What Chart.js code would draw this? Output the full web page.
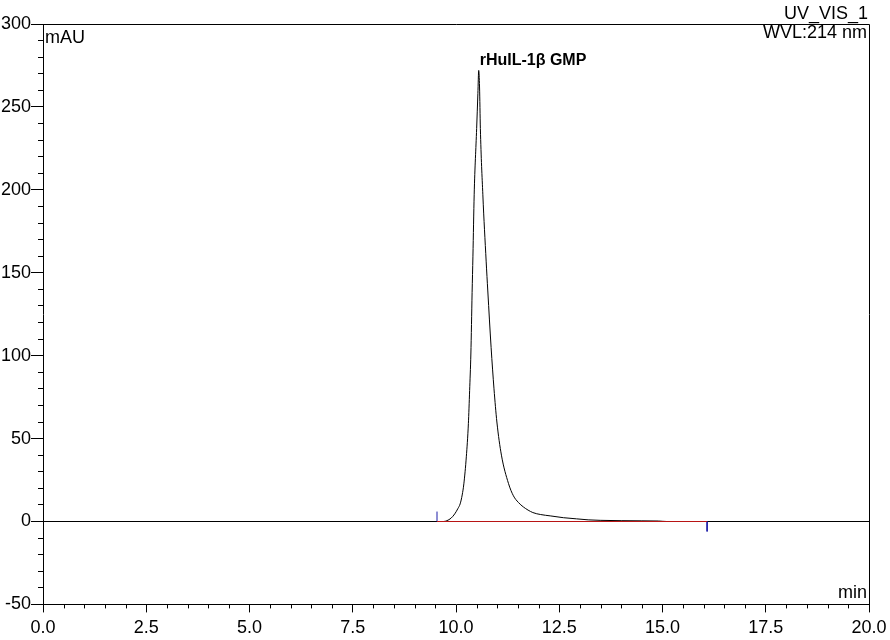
<!DOCTYPE html>
<html>
<head>
<meta charset="utf-8">
<script src="https://cdn.jsdelivr.net/npm/chart.js@4.4.1/dist/chart.umd.min.js"></script>
<style>
  body { margin: 0; background: #fff; }
  #chromatogram { display: block; }
</style>
</head>
<body>
<canvas id="chromatogram" width="890" height="640"></canvas>
<script>
// chromatogram trace (min / mAU)
const retentionTime = [0, 9.70, 9.78, 9.88, 9.97, 10.05, 10.10, 10.15, 10.19, 10.25, 10.30, 10.33, 10.36, 10.39, 10.41, 10.44, 10.50, 10.53, 10.55, 10.57, 10.59, 10.65, 10.73, 10.77, 10.85, 10.92, 10.99, 11.10, 11.27, 11.39, 11.51, 11.63, 11.86, 12.05, 12.28, 12.60, 12.92, 13.20, 13.49, 14.00, 14.50, 14.90, 15.10, 20.0];
const absorbance    = [0, 0,    0.5,  2,    4.6,  8,     10.6,  16,    22.7,  39,    59,    79,    101,   138,   160,   197,   237,   258,   272,   262,   237,   197,   157,   139,   105,   80,    60,    40,    23,    15.5,  11.5,  8.8,   5.4,   4.2,   3.4,   2.3,   1.6,   1.0,   0.7,   0.5,   0.4,   0.3,   0,     0];

// integration baseline and its start / end markers
const baselineTime = [9.54, 16.08];
const baselineValue = [0, 0];
const startMarkerValue = [0, 6];
const endMarkerValue = [0, -6];

const peakName = "rHuIL-1β GMP";
const channelName = "UV_VIS_1";
const wavelengthText = "WVL:214 nm";

const xMajorTicks = [0, 2.5, 5, 7.5, 10, 12.5, 15, 17.5, 20];
const yMajorTicks = [-50, 0, 50, 100, 150, 200, 250, 300];
const X_MINOR_STEP = 0.5;
const Y_MINOR_STEP = 10;

const FONT = "'Liberation Sans', Arial, sans-serif";

function toPoints(xs, ys){
  return xs.map((x, i) => ({ x: x, y: ys[i] }));
}

// frame, minor ticks and the texts inside the plot
const chromatogramDecor = {
  id: "chromatogramDecor",
  afterDraw(chart){
    const ctx = chart.ctx;
    const area = chart.chartArea;
    const xs = chart.scales.x;
    const ys = chart.scales.y;
    ctx.save();
    ctx.strokeStyle = "#000";
    ctx.lineWidth = 1;

    // top and right side of the box
    ctx.beginPath();
    ctx.moveTo(area.left, Math.round(area.top) + 0.5);
    ctx.lineTo(Math.round(area.right) + 0.5, Math.round(area.top) + 0.5);
    ctx.lineTo(Math.round(area.right) + 0.5, area.bottom);
    ctx.stroke();

    // minor ticks
    ctx.beginPath();
    for(let v = ys.min; v <= ys.max; v += Y_MINOR_STEP){
      if(yMajorTicks.includes(v)) continue;
      const py = Math.floor(ys.getPixelForValue(v)) + 0.5;
      ctx.moveTo(area.left - 5, py);
      ctx.lineTo(area.left, py);
    }
    for(let v = xs.min; v <= xs.max + 1e-9; v += X_MINOR_STEP){
      if(xMajorTicks.some(t => Math.abs(t - v) < 1e-6)) continue;
      const px = Math.round(xs.getPixelForValue(v)) + 0.5;
      ctx.moveTo(px, area.bottom);
      ctx.lineTo(px, area.bottom + 4);
    }
    ctx.stroke();

    // texts
    ctx.fillStyle = "#000";
    ctx.font = `18px ${FONT}`;
    ctx.textBaseline = "alphabetic";
    ctx.textAlign = "left";
    ctx.fillText("mAU", area.left + 2, area.top + 19);
    ctx.textAlign = "right";
    ctx.fillText(channelName, area.right - 1, area.top - 5);
    ctx.fillText(wavelengthText, area.right - 2, area.top + 14);
    ctx.fillText("min", area.right - 2, area.bottom - 6);

    // peak label
    let peakIndex = 0;
    absorbance.forEach((v, i) => { if(v > absorbance[peakIndex]) peakIndex = i; });
    const peakX = xs.getPixelForValue(retentionTime[peakIndex]);
    const peakY = ys.getPixelForValue(absorbance[peakIndex]);
    ctx.font = `bold 16px ${FONT}`;
    ctx.textAlign = "left";
    ctx.fillText(peakName, peakX + 1, peakY - 5);
    ctx.restore();
  }
};

const ctx = document.getElementById("chromatogram").getContext("2d");
new Chart(ctx, {
  type: "scatter",
  data: {
    datasets: [
      {
        label: "baseline",
        data: toPoints(baselineTime, baselineValue),
        showLine: true,
        borderColor: "#b81414",
        borderWidth: 1,
        pointRadius: 0,
        order: 0
      },
      {
        label: "start",
        data: toPoints([baselineTime[0], baselineTime[0]], startMarkerValue),
        showLine: true,
        borderColor: "#1c1ca8",
        borderWidth: 1,
        pointRadius: 0,
        order: 0
      },
      {
        label: "end",
        data: toPoints([baselineTime[1], baselineTime[1]], endMarkerValue),
        showLine: true,
        borderColor: "#1c1ca8",
        borderWidth: 1,
        pointRadius: 0,
        order: 0
      },
      {
        label: channelName,
        data: toPoints(retentionTime, absorbance),
        showLine: true,
        borderColor: "#000",
        borderWidth: 1,
        pointRadius: 0,
        cubicInterpolationMode: "monotone",
        order: 1
      }
    ]
  },
  options: {
    responsive: false,
    animation: false,
    layout: { padding: { top: 24, right: 21, left: 0, bottom: 0 } },
    plugins: {
      legend: { display: false },
      tooltip: { enabled: false }
    },
    scales: {
      x: {
        type: "linear",
        min: 0,
        max: 20,
        afterBuildTicks: scale => { scale.ticks = xMajorTicks.map(v => ({ value: v })); },
        afterFit: scale => {
          // keeps the zero line on a whole pixel row
          scale.height = 35.58;
          scale.paddingLeft = 0;
          scale.paddingRight = 0;
        },
        ticks: {
          color: "#000",
          font: { family: FONT, size: 18 },
          padding: 5,
          maxRotation: 0,
          callback: value => value.toFixed(1)
        },
        grid: { drawOnChartArea: false, tickLength: 8, tickColor: "#000" },
        border: { color: "#000", width: 1 }
      },
      y: {
        type: "linear",
        min: -50,
        max: 300,
        afterBuildTicks: scale => { scale.ticks = yMajorTicks.map(v => ({ value: v })); },
        afterFit: scale => { scale.width = 43; },
        ticks: {
          color: "#000",
          font: { family: FONT, size: 18 },
          padding: 0,
          callback: value => String(value)
        },
        grid: { drawOnChartArea: false, tickLength: 12, tickColor: "#000" },
        border: { color: "#000", width: 1 }
      }
    }
  },
  plugins: [chromatogramDecor]
});
</script>
</body>
</html>
